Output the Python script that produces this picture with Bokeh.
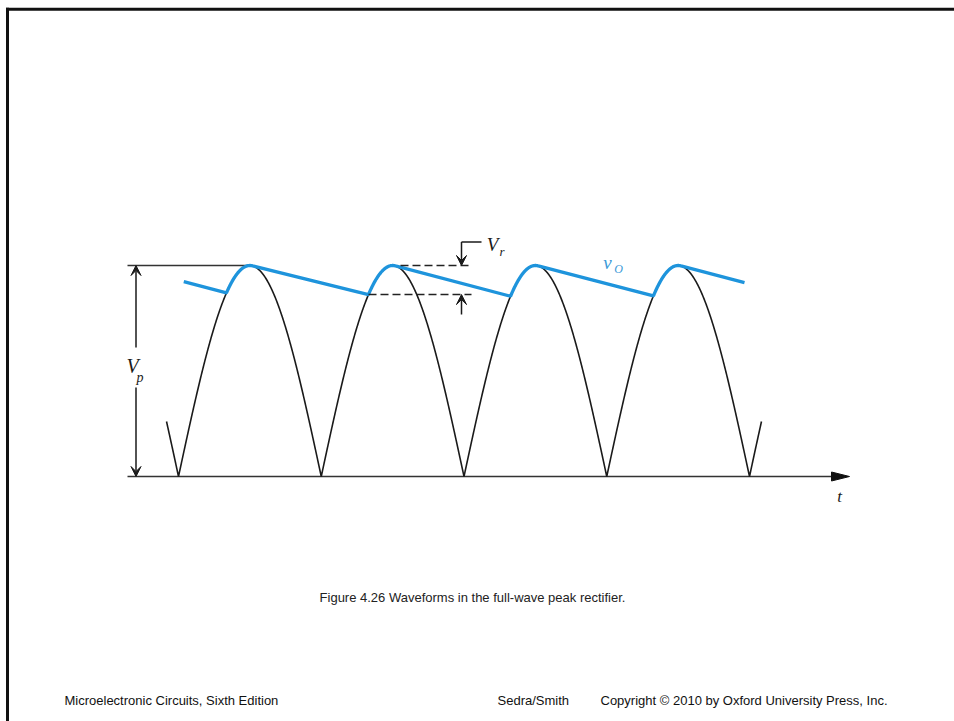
import numpy as np
from bokeh.plotting import figure
from bokeh.models import Range1d, Arrow, VeeHead
from bokeh.core.properties import value
from bokeh.embed import file_html
from bokeh.resources import INLINE

# ---- waveform data: time in units of T/2, voltage in units of Vp ----
zero_crossings = [0, 1, 2, 3, 4]
peak_times = [0.5, 1.5, 2.5, 3.5]
Vp = 1.0
input_span = [-0.084, 4.084]                       # extent of the rectified input trace
conduction_start = [0.336, 1.331, 2.326, 3.327]    # diodes begin to conduct
conduction_end = [0.52, 1.52, 2.52, 3.52]          # diodes cut off, capacitor discharges
vo_initial = [0.037, 0.924]                        # (t, v) where the output trace begins
vo_final = [3.965, 0.919]                          # (t, v) where the output trace ends

# ---- canvas layout ----
W, H = 954, 721
X0, SX = 178.0, 142.75   # canvas x of t = 0 and pixels per T/2
Y0, SY = 476.0, 211.0    # canvas y of v = 0 and pixels per Vp


def tx(px):
    return (px - X0) / SX


def vy(py):
    return (Y0 - py) / SY


def rectified(t):
    return Vp * np.abs(np.sin(np.pi * np.asarray(t)))


INK = "#1a1a1a"
BLUE = "#1e94dc"

p = figure(width=W, height=H, x_range=Range1d(tx(0), tx(W)), y_range=Range1d(vy(H), vy(0)),
           output_backend="svg", toolbar_location=None, min_border=0,
           x_axis_location=None, y_axis_location=None)
p.grid.visible = False
p.outline_line_color = None
p.background_fill_color = "white"
p.border_fill_color = "white"

# slide frame (top and left edges)
p.line([tx(5.5), tx(W)], [vy(8.7), vy(8.7)], line_color="#111", line_width=3)
p.line([tx(7.0), tx(7.0)], [vy(7.2), vy(H)], line_color="#111", line_width=3)

# time axis with arrow
p.line([tx(127), tx(836)], [0, 0], line_color="#333", line_width=1.6)
p.patch([tx(831), tx(849), tx(831)], [vy(471.5), 0, vy(480.5)], fill_color="#111", line_color="#111")
p.text([tx(839)], [vy(496)], text=["t"], text_font=value("Liberation Serif"), text_font_style="italic",
       text_font_size="17px", text_align="center", text_baseline="middle", text_color=INK)

# reference line at the peak level
p.line([tx(127), tx(252)], [Vp, Vp], line_color="#333", line_width=1.4)

# rectified input |v_I|
t_in = np.sort(np.concatenate([np.linspace(input_span[0], input_span[1], 2000), zero_crossings]))
p.line(t_in, rectified(t_in), line_color=INK, line_width=1.6)

# output voltage v_O: charge along the input, discharge linearly in between
vo_t = [vo_initial[0]]
vo_v = [vo_initial[1]]
for cs, ce in zip(conduction_start, conduction_end):
    seg = np.linspace(cs, ce, 60)
    vo_t.extend(seg.tolist())
    vo_v.extend(rectified(seg).tolist())
vo_t.append(vo_final[0])
vo_v.append(vo_final[1])
p.line(vo_t, vo_v, line_color=BLUE, line_width=3.3)

# ripple markers
ripple_low = float(rectified(conduction_start[1]))
p.line([tx(400), tx(471)], [Vp, Vp], line_color="#222", line_width=1.5, line_dash="8 4")
p.line([conduction_start[1], tx(471)], [ripple_low, ripple_low], line_color="#222",
       line_width=1.5, line_dash="8 4")

xr = tx(461)
p.line([xr, tx(481)], [vy(241.5), vy(241.5)], line_color=INK, line_width=1.5)
for y_from, y_to in [(vy(241.5), Vp), (vy(314), ripple_low)]:
    p.add_layout(Arrow(end=VeeHead(size=10, fill_color=INK, line_color=INK, line_width=1),
                       x_start=xr, y_start=y_from, x_end=xr, y_end=y_to,
                       line_color=INK, line_width=1.5))
p.text([tx(492)], [vy(244)], text=["V"], text_font=value("Liberation Serif"), text_font_style="italic",
       text_font_size="19px", text_align="center", text_baseline="middle", text_color=INK)
p.text([tx(501.5)], [vy(251)], text=["r"], text_font=value("Liberation Serif"), text_font_style="italic",
       text_font_size="13px", text_align="center", text_baseline="middle", text_color=INK)

# Vp dimension
xv = tx(135.5)
for y_from, y_to in [(vy(347), Vp), (vy(387), 0.0)]:
    p.add_layout(Arrow(end=VeeHead(size=10, fill_color=INK, line_color=INK, line_width=1),
                       x_start=xv, y_start=y_from, x_end=xv, y_end=y_to,
                       line_color=INK, line_width=1.5))
p.text([tx(132)], [vy(365)], text=["V"], text_font=value("Liberation Serif"), text_font_style="italic",
       text_font_size="20px", text_align="center", text_baseline="middle", text_color=INK)
p.text([tx(139.5)], [vy(377)], text=["p"], text_font=value("Liberation Serif"), text_font_style="italic",
       text_font_size="14px", text_align="center", text_baseline="middle", text_color=INK)

# v_O label
p.text([tx(607)], [vy(262)], text=["v"], text_font=value("Liberation Serif"), text_font_style="italic",
       text_font_size="19px", text_align="center", text_baseline="middle", text_color="#3c9ad8")
p.text([tx(618)], [vy(268)], text=["O"], text_font=value("Liberation Serif"), text_font_style="italic",
       text_font_size="12px", text_align="center", text_baseline="middle", text_color="#3c9ad8")

# caption and footer
p.text([tx(472)], [vy(597)], text=["Figure 4.26 Waveforms in the full-wave peak rectifier."],
       text_font=value("Liberation Sans"), text_font_size="13px", text_align="center",
       text_baseline="middle", text_color="#222")
footer_x = [64, 497, 600]
footer_text = ["Microelectronic Circuits, Sixth Edition", "Sedra/Smith",
               "Copyright \u00a9 2010 by Oxford University Press, Inc."]
p.text([tx(x) for x in footer_x], [vy(700)] * 3, text=footer_text,
       text_font=value("Liberation Sans"), text_font_size="13px", text_align="left",
       text_baseline="middle", text_color="#111")

open("out.html", "w").write(file_html(p, INLINE))
